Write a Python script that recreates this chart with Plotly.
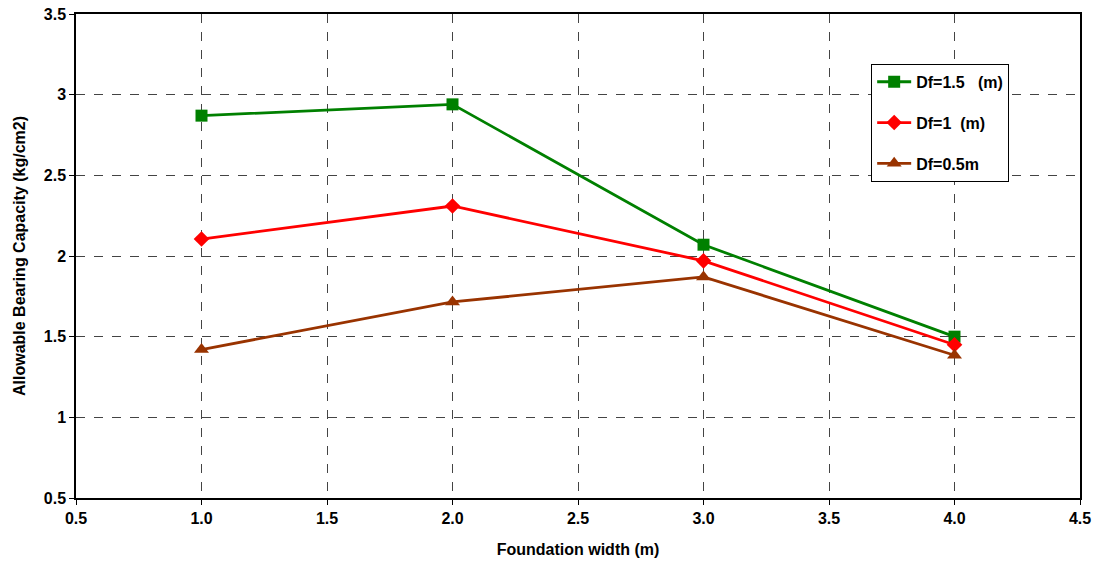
import plotly.graph_objects as go

widths = [1.0, 2.0, 3.0, 4.0]
df_15 = [2.87, 2.94, 2.07, 1.50]
df_10 = [2.105, 2.31, 1.97, 1.45]
df_05 = [1.42, 1.715, 1.87, 1.385]
names = ["Df=1.5\u00a0\u00a0\u00a0(m)", "Df=1\u00a0\u00a0(m)", "Df=0.5m"]

FONT = "Liberation Sans, Arial, sans-serif"

fig = go.Figure()
specs = [
    (df_15, names[0], "#008000", "square", 12),
    (df_10, names[1], "#FF0000", "diamond", 12),
    (df_05, names[2], "#993300", "triangle-up", 13),
]
for i, (ys, nm, col, sym, sz) in enumerate(specs):
    fig.add_trace(go.Scatter(
        x=widths, y=ys, name=nm, mode="lines+markers",
        line=dict(color=col, width=2.8),
        marker=dict(symbol=sym, size=sz, color=col),
        legendgroup=f"g{i}",
    ))

axis_common = dict(
    showline=True, linecolor="black", linewidth=1.5, mirror=True,
    showgrid=True, gridcolor="#444444", griddash="dash", gridwidth=1,
    ticks="outside", ticklen=5, tickcolor="black",
    tickfont=dict(family=FONT, size=16, color="black", weight="bold"),
    ticklabeloverflow="allow",
    zeroline=False,
)

fig.update_layout(
    width=1096, height=569,
    paper_bgcolor="white", plot_bgcolor="white",
    margin=dict(l=76, r=16, t=14, b=71, autoexpand=False),
    font=dict(family=FONT, color="black"),
    xaxis=dict(range=[0.5, 4.5], dtick=0.5, tick0=0.5, tickformat=".1f",
               title=dict(text="Foundation width (m)", standoff=18,
                          font=dict(family=FONT, size=16, weight="bold")),
               **axis_common),
    yaxis=dict(range=[0.5, 3.5], dtick=0.5, tick0=0.5,
               title=dict(text="Allowable Bearing Capacity (kg/cm2)", standoff=14,
                          font=dict(family=FONT, size=16, weight="bold")),
               **axis_common),
    legend=dict(x=0.792, y=0.897, xanchor="left", yanchor="top",
                bgcolor="white", bordercolor="black", borderwidth=1,
                font=dict(family=FONT, size=16, weight="bold"),
                tracegroupgap=17, itemwidth=34),
    showlegend=True,
)

fig.write_html("out.html",
               config={"displayModeBar": False},
               post_script="document.body.style.margin='0';document.body.style.overflow='hidden';")
